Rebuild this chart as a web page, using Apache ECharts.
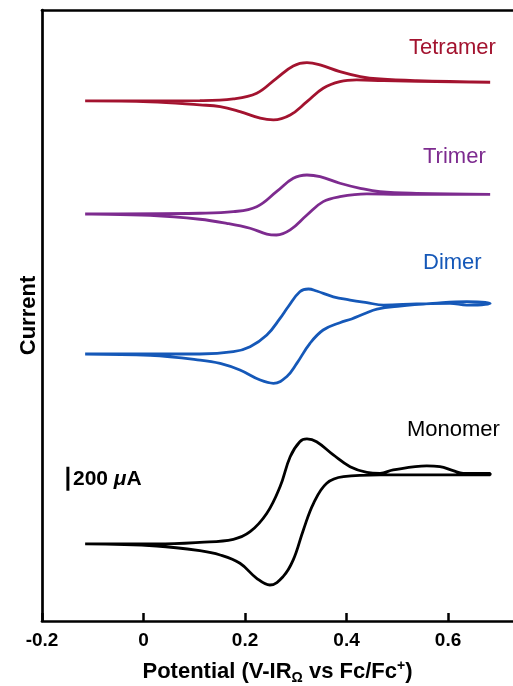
<!DOCTYPE html>
<html>
<head>
<meta charset="utf-8">
<script src="https://cdn.jsdelivr.net/npm/echarts@6/dist/echarts.min.js"></script>
<style>html,body{margin:0;padding:0;background:#fff;}#c{width:513px;height:686px;}</style>
</head>
<body>
<div id="c"></div>
<script>
// Potential (V) and current (uA, relative to each trace's own baseline), forward then reverse scan
const monoE = [-0.115,0.026,0.111,0.177,0.210,0.243,0.269,0.289,0.308,0.322,0.341,0.374,0.407,0.440,0.466,0.492,0.558,0.584,0.610,0.630,0.683,
               0.683,0.466,0.394,0.361,0.335,0.315,0.295,0.275,0.249,0.223,0.190,0.151,0.111,0.026,-0.115];
const monoI = [0,0,14,39,102,256,477,727,852,875,852,742,644,597,589,617,650,644,611,589,589,
               575,575,561,506,339,117,-133,-272,-342,-286,-161,-92,-56,-17,0];

const dimerE = [-0.115,0.111,0.177,0.210,0.243,0.269,0.285,0.308,0.325,0.341,0.374,0.407,0.440,0.473,0.538,0.604,0.637,0.683,
                0.637,0.570,0.505,0.460,0.435,0.410,0.387,0.354,0.328,0.302,0.282,0.256,0.230,0.190,0.151,0.111,0.013,-0.115];
const dimerI = [0,0,19,61,158,297,394,519,542,525,477,450,428,408,417,422,408,422,
                437,422,400,375,335,292,261,200,89,-78,-189,-244,-217,-133,-78,-50,-12,0];

const trimerE = [-0.115,0.111,0.177,0.223,0.262,0.295,0.322,0.348,0.387,0.427,0.466,0.538,0.683,
                 0.505,0.440,0.387,0.354,0.322,0.289,0.262,0.243,0.210,0.164,0.111,0.013,-0.115];
const trimerI = [0,6,19,61,186,297,325,311,256,214,186,172,164,
                 164,167,144,103,-8,-133,-175,-167,-119,-78,-44,-12,0];

const tetramerE = [-0.115,0.111,0.177,0.223,0.262,0.295,0.322,0.348,0.387,0.427,0.466,0.538,0.683,
                   0.473,0.420,0.387,0.354,0.322,0.289,0.256,0.230,0.190,0.151,0.111,0.013,-0.115];
const tetramerI = [0,3,17,64,189,292,319,300,244,203,183,169,156,
                   169,175,161,106,-6,-117,-158,-144,-89,-47,-33,-8,0];

// vertical stacking offsets (uA)
const offsets = {Monomer:0, Dimer:1583, Trimer:2750, Tetramer:3692};
const names = ['Tetramer','Trimer','Dimer','Monomer'];
const colors = {Tetramer:'#a3132f', Trimer:'#7d2b8f', Dimer:'#1558b8', Monomer:'#000000'};
const xTicks = [-0.2,0,0.2,0.4,0.6];
const scaleBarE = -0.149, scaleBarI = [444, 644];

const traces = {Monomer:[monoE,monoI], Dimer:[dimerE,dimerI], Trimer:[trimerE,trimerI], Tetramer:[tetramerE,tetramerI]};

const series = names.map(n => ({
  type:'line', name:n, smooth:0.4, symbol:'none', silent:true,
  lineStyle:{color:colors[n], width:2.8},
  data: traces[n][0].map((e,i)=>[e, traces[n][1][i] + offsets[n]])
}));
series.push({type:'line', symbol:'none', silent:true, lineStyle:{color:'#000', width:3},
  data: scaleBarI.map(v=>[scaleBarE, v])});

const chart = echarts.init(document.getElementById('c'), null, {renderer:'canvas'});
const F = 'Liberation Sans, Arial, sans-serif';
chart.setOption({
  animation:false,
  grid:{left:42, right:0, top:10, bottom:65, containLabel:false, outerBoundsMode:'none'},
  xAxis:[{
    type:'value', min:-0.2, max:0.728, interval:0.2,
    axisLine:{onZero:false, lineStyle:{color:'#000', width:2.7}},
    axisTick:{inside:true, length:8, lineStyle:{color:'#000', width:2.5}},
    splitLine:{show:false},
    axisLabel:{showMaxLabel:false, color:'#000', fontFamily:F, fontWeight:'bold', fontSize:19, margin:10,
      formatter: v => xTicks.includes(Math.round(v*10)/10) ? String(Math.round(v*10)/10) : ''},
    name:'{a|Potential (V-IR}{sub|Ω}{a| vs Fc/Fc}{sup|+}{a|)}', nameLocation:'middle', nameGap:38,
    nameTextStyle:{rich:{
      a:{fontFamily:F, fontWeight:'bold', fontSize:22, color:'#000'},
      sub:{fontFamily:F, fontWeight:'bold', fontSize:14, color:'#000', verticalAlign:'bottom', padding:[12,0,0,0]},
      sup:{fontFamily:F, fontWeight:'bold', fontSize:14, color:'#000', verticalAlign:'top', padding:[0,0,12,0]}
    }}
  },{
    type:'value', position:'top', min:-0.2, max:0.728,
    axisLine:{onZero:false, lineStyle:{color:'#000', width:2.7}},
    axisTick:{show:false}, axisLabel:{show:false}, splitLine:{show:false}
  }],
  yAxis:{
    type:'value', min:-642, max:4450,
    axisLine:{show:true, onZero:false, lineStyle:{color:'#000', width:2.7}},
    axisTick:{show:false}, axisLabel:{show:false}, splitLine:{show:false},
    name:'Current', nameLocation:'middle', nameGap:2,
    nameTextStyle:{fontFamily:F, fontWeight:'bold', fontSize:22, color:'#000'}
  },
  series: series,
  graphic:[
    {type:'text', left:409, top:37, style:{text:'Tetramer', fill:colors.Tetramer, font:'22px '+F}},
    {type:'text', left:423, top:146, style:{text:'Trimer', fill:colors.Trimer, font:'22px '+F}},
    {type:'text', left:423, top:252, style:{text:'Dimer', fill:colors.Dimer, font:'22px '+F}},
    {type:'text', left:407, top:419, style:{text:'Monomer', fill:colors.Monomer, font:'22px '+F}},
    {type:'text', left:73, top:469, style:{text:'{b|200 }{m|μ}{b|A}', rich:{
      b:{font:'bold 21px '+F, fill:'#000'}, m:{font:'italic bold 21px '+F, fill:'#000'}}}}
  ]
});
</script>
</body>
</html>
